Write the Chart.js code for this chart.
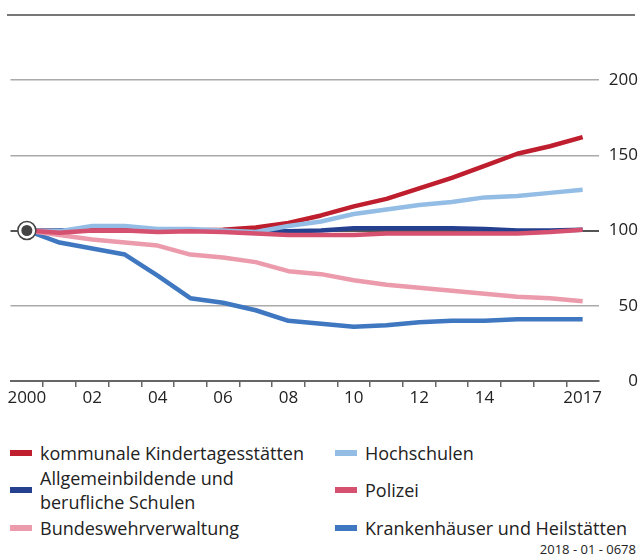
<!DOCTYPE html>
<html><head><meta charset="utf-8">
<script src="https://cdn.jsdelivr.net/npm/chart.js@4"></script>
<style>
html,body{margin:0;padding:0;background:#fff;}
body{width:641px;height:556px;position:relative;overflow:hidden;font-family:'Open Sans',sans-serif;color:#222;}
#wrap{position:absolute;left:0;top:0;width:641px;height:430px;}
#topline{position:absolute;left:7px;top:14px;width:628px;height:2px;background:#777;}
.lg{position:absolute;font-size:18px;line-height:24px;white-space:nowrap;}
.sw{position:absolute;width:22px;height:6px;}
#code{position:absolute;right:5px;top:541px;font-size:13px;line-height:16px;}
</style></head>
<body>
<div id="topline"></div>
<div id="wrap"><canvas id="c" width="641" height="430"></canvas></div>
<div id="legend"></div>
<div id="code">2018 - 01 - 0678</div>
<script>
const years = [2000,2001,2002,2003,2004,2005,2006,2007,2008,2009,2010,2011,2012,2013,2014,2015,2016,2017];
const tickLabels = ['2000','','02','','04','','06','','08','','10','','12','','14','','','2017'];
const yTicks = [0,50,100,150,200];
const baseValue = [100];

const kita        = [100,99.5,100,100,100,100,100.5,102,105,110,116,121,128,135,143,151,156,162];
const schulen     = [100,100,100.5,101,100,100,100,99.5,99.5,100,101.5,101.5,101.5,101.5,101,100,100,100.5];
const bundeswehr  = [100,97,94,92,90,84,82,79,73,71,67,64,62,60,58,56,55,53];
const hochschulen = [100,99.6,103,103,101,101,100,99,103,106,111,114,117,119,122,123,125,127];
const polizei     = [100,98.5,100,100,99,99.5,99,98,97,97,97,98,98,98,98,98,99,100.5];
const kranken     = [100,92,88,84,70,55,52,47,40,38,36,37,39,40,40,41,41,41];

const seriesNames = ['kommunale Kindertagesstätten','Allgemeinbildende und\nberufliche Schulen','Bundeswehrverwaltung','Hochschulen','Polizei','Krankenhäuser und Heilstätten'];
const seriesData = [kita, schulen, bundeswehr, hochschulen, polizei, kranken];
const seriesColors = ['#be1e2d','#25408f','#eb9bab','#94bde6','#d6506f','#3f78c0'];
const seriesOrder = [4,5,6,3,2,7];

const datasets = seriesData.map((d,i)=>({
  label: seriesNames[i], data: d, borderColor: seriesColors[i], backgroundColor: seriesColors[i],
  borderWidth: 4.5, pointRadius: 0, tension: 0, borderJoinStyle: 'round', order: seriesOrder[i]
}));
datasets.push({label:'m1', data: baseValue, showLine:false, pointRadius:9, pointHoverRadius:9,
  pointBackgroundColor:'#fff', pointBorderColor:'#444', pointBorderWidth:1.5, order:1});
datasets.push({label:'m2', data: baseValue, showLine:false, pointRadius:5.5, pointHoverRadius:5.5,
  pointBackgroundColor:'#444', pointBorderWidth:0, order:0});

new Chart(document.getElementById('c'), {
  type: 'line',
  data: { labels: tickLabels, datasets },
  options: {
    responsive: false, animation: false,
    layout: { padding: { left: 10, right: 3, top: 80, bottom: 0 } },
    plugins: { legend: { display: false }, tooltip: { enabled: false } },
    scales: {
      x: {
        type: 'category', offset: true,
        grid: { offset: true, drawOnChartArea: false, drawTicks: true, tickLength: 6, lineWidth: 1.5,
          color: ctx => (ctx.type === 'tick' && ctx.index > 0) ? '#666' : 'rgba(0,0,0,0)' },
        border: { display: true, color: '#666', width: 2 },
        ticks: { autoSkip: false, maxRotation: 0, padding: 1, color: '#222', font: { family: 'Open Sans', size: 17 } },
        afterFit: s => { s.height = 49; }
      },
      y: {
        position: 'right', min: 0, max: 200,
        afterBuildTicks: s => { s.ticks = yTicks.map(v => ({ value: v })); },
        grid: { drawTicks: false,
          color: ctx => ctx.tick && ctx.tick.value === 100 ? '#555' : (ctx.tick && ctx.tick.value === 0 ? '#666' : '#aaa'),
          lineWidth: ctx => ctx.tick && (ctx.tick.value === 100 || ctx.tick.value === 0) ? 2 : 1.5 },
        border: { display: false },
        ticks: { crossAlign: 'far', padding: 0, color: '#222', font: { family: 'Open Sans', size: 17 } },
        afterFit: s => { s.width = 39; }
      }
    }
  }
});

// HTML legend built from series arrays
const legendPos = [
  {x:10, y:453}, {x:10, y:490}, {x:10, y:528},
  {x:335, y:453}, {x:335, y:490}, {x:335, y:528}
];
const lg = document.getElementById('legend');
seriesNames.forEach((name,i)=>{
  const p = legendPos[i];
  const sw = document.createElement('div');
  sw.className = 'sw'; sw.style.left = p.x+'px'; sw.style.top = (p.y-3)+'px'; sw.style.background = seriesColors[i];
  lg.appendChild(sw);
  const lines = name.split('\n');
  const t = document.createElement('div');
  t.className = 'lg'; t.style.left = (p.x+30)+'px';
  t.style.top = (p.y - lines.length*12)+'px';
  t.innerHTML = lines.join('<br>');
  lg.appendChild(t);
});
</script>
</body></html>
